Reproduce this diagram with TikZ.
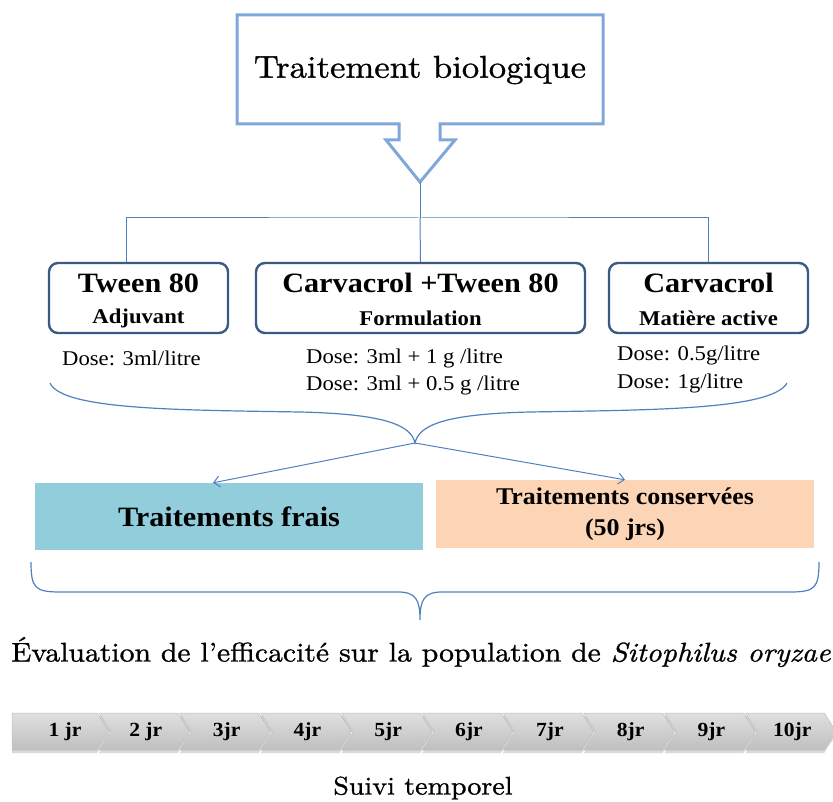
\documentclass[tikz,border=0pt]{standalone}
\usepackage{fontspec}
\newfontfamily\tnr[FakeStretch=1.08]{Liberation Serif}
\newfontfamily\garfont[Extension=.otf, UprightFont=*-regular, ItalicFont=*-italic,
    Ligatures=TeX, FakeBold=1.0, FakeStretch=1.1]{lmroman10}
\usetikzlibrary{arrows.meta, positioning, shadows}

\definecolor{titleblue}{HTML}{7FA7D9}
\definecolor{linkblue}{HTML}{4F81BD}
\definecolor{boxedge}{HTML}{3A5A85}
\definecolor{fraisfill}{HTML}{92CDDC}
\definecolor{consfill}{HTML}{FBD5B5}

\begin{document}
\begin{tikzpicture}[x=1pt, y=-1pt,
    conn/.style={draw=linkblue, line width=1pt},
    pbox/.style={draw=boxedge, line width=2.4pt, rounded corners=9pt, minimum height=70pt},
    ptitle/.style={font=\tnr\bfseries\fontsize{28}{30}\selectfont},
    psub/.style={font=\tnr\bfseries\fontsize{21}{24}\selectfont},
    dose/.style={font=\tnr\fontsize{21}{24}\selectfont, anchor=west, inner sep=0pt},
    daylbl/.style={font=\tnr\bfseries\fontsize{20}{22}\selectfont}]

        \useasboundingbox (0,0) rectangle (833,802);

        % ==========================================
        % TOP: box with down arrow
        % ==========================================

        \draw[titleblue, line width=3pt, line join=miter]
            (237,15) -- (603,15) -- (603,124) -- (440,124) -- (440,140)
            -- (455,140) -- (420,182) -- (386,140) -- (399,140) -- (399,124)
            -- (237,124) -- cycle;
        \node[font=\garfont\fontsize{31.5}{34}\selectfont] (title) at (420,70) {Traitement biologique};
        \coordinate (tip) at (420,182);

        % ==========================================
        % THREE PRODUCTS
        % ==========================================

        \node[pbox, minimum width=179pt] (adj) at (138.5,298) {};
        \node[pbox, minimum width=329pt] (form) at (420.5,298) {};
        \node[pbox, minimum width=199pt] (mat) at (708.5,298) {};

        \node[ptitle] (adjT) at (138.5,283) {Tween 80};
        \node[psub] (adjS) at (138.5,318) {Adjuvant};
        \node[ptitle] (formT) at (420.5,283) {Carvacrol +Tween 80};
        \node[psub] (formS) at (420.5,318) {Formulation};
        \node[ptitle] (matT) at (708.5,283) {Carvacrol};
        \node[psub] (matS) at (708.5,318) {Matière active};

        % tree from the arrow tip
        \coordinate (hub) at (420,218);
        \draw[conn] (tip) -- (hub);
        \draw[conn] ([xshift=-12.5pt]adj.north) |- (hub) -| (mat.north);
        \draw[conn] (hub) -- (form.north);

        % doses
        \node[dose] (d1) at (62,358) {Dose: 3ml/litre};
        \node[dose] (d2) at (306,358) {Dose: 3ml + 1 g /litre};
        \node[dose] (d3) at (306,385) {Dose: 3ml + 0.5 g /litre};
        \node[dose] (d4) at (617,355) {Dose: 0.5g/litre};
        \node[dose] (d5) at (617,383) {Dose: 1g/litre};

        % ==========================================
        % BRACE AND THE TWO TREATMENTS
        % ==========================================

        \coordinate (bt) at (415,443);
        \draw[conn, line width=1.2pt] (50,383) .. controls (62,410) and (180,410) .. (300,412)
            .. controls (385,414) and (411,425) .. (bt)
            .. controls (419,425) and (445,414) .. (530,412)
            .. controls (650,410) and (772,410) .. (787,383);

        \node[fill=fraisfill, minimum width=388pt, minimum height=67pt,
              font=\tnr\bfseries\fontsize{28}{30}\selectfont] (frais) at (229,516.5) {Traitements frais};
        \node[fill=consfill, minimum width=378pt, minimum height=68pt, align=center,
              font=\tnr\bfseries\fontsize{24}{31}\selectfont] (cons) at (625,514) {Traitements conservées\\(50 jrs)};

        \draw[conn, -{Straight Barb[length=6pt,width=11pt]}] (bt) -- ([xshift=-16pt]frais.north);
        \draw[conn, -{Straight Barb[length=6pt,width=11pt]}] (bt) -- (cons.north);

        % bottom brace
        \coordinate (bb) at (420,620);
        \draw[conn, line width=1.2pt] (31,562) .. controls (31,588) and (35,592) .. (60,592)
            -- (398,592) .. controls (416,592) and (420,600) .. (bb)
            .. controls (420,600) and (424,592) .. (442,592)
            -- (790,592) .. controls (815,592) and (819,588) .. (819,562);

        \node[font=\garfont\fontsize{27}{30}\selectfont] (eval) at (421,652)
            {Évaluation de l’efficacité sur la population de \textit{Sitophilus oryzae}};

        % ==========================================
        % BOTTOM: time line
        % ==========================================

        \foreach \i/\lab in {1/1 jr, 2/2 jr, 3/3jr, 4/4jr, 5/5jr, 6/6jr, 7/7jr, 8/8jr, 9/9jr, 10/10jr} {
            \pgfmathsetmacro{\l}{ifthenelse(\i==1, 12, 99+80.8*(\i-2))}
            \pgfmathsetmacro{\r}{ifthenelse(\i==1, 97, 99+80.8*(\i-2)+78.8)}
            \pgfmathsetmacro{\notch}{ifthenelse(\i==1, 0, 12)}
            \path[drop shadow={opacity=0.3, shadow xshift=0pt, shadow yshift=-3pt},
                  top color=gray!25, middle color=white, bottom color=gray!50, draw=gray!50, line width=0.5pt]
                (\l,713) -- (\r,713) -- (\r+12,731.5) -- (\r,750) -- (\l,750) -- (\l+\notch,731.5) -- cycle;
            \node[daylbl] (day\i) at (65+80.8*\i-80.8,731.5) {\lab};
        }

        \node[font=\garfont\fontsize{25.5}{28}\selectfont] (suivi) at (423,788) {Suivi temporel};

\end{tikzpicture}
\end{document}
